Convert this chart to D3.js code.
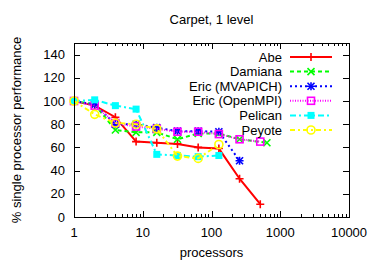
<!DOCTYPE html>
<html>
<head>
<meta charset="utf-8">
<script src="https://cdn.jsdelivr.net/npm/d3@7"></script>
<style>
  body { margin: 0; background: #fff; }
  text { font-family: "Liberation Sans", Arial, sans-serif; fill: #000; }
</style>
</head>
<body>
<svg id="chart" width="374" height="262"></svg>
<script>
// values
const procs = [1, 2, 4, 8, 16, 32, 64, 128, 256, 512];
const damianaProcs = [1, 2, 4, 8, 16, 32, 64, 128, 256, 640];
const abe = [100, 96, 86, 65, 64, 63, 60, 59, 33, 11];
const damiana = [100, 97, 75, 73, 73, 67, 72, 72, 67, 64];
const ericMvapich = [100, 97, 80, 80, 77, 74, 74, 73.5, 48.5];
const ericOpenmpi = [100, 96, 81, 78, 76, 73.5, 73.5, 71.5, 67, 65];
const pelican = [100, 101, 96, 93, 54, 53, 52, 53];
const peyote = [100, 88.5, 81, 80, 76, 52.5, 50.5, 62.5];
const xTicks = [1, 10, 100, 1000, 10000];
const yTicks = [0, 20, 40, 60, 80, 100, 120, 140];

const series = [
  { name: 'Abe', x: procs, y: abe, color: '#ff0000', dash: null, mark: 'plus' },
  { name: 'Damiana', x: damianaProcs, y: damiana, color: '#00ff00', dash: '4,3', mark: 'cross' },
  { name: 'Eric (MVAPICH)', x: procs, y: ericMvapich, color: '#0000ff', dash: '2,3', mark: 'star' },
  { name: 'Eric (OpenMPI)', x: procs, y: ericOpenmpi, color: '#ff00ff', dash: '1,1.5', mark: 'box' },
  { name: 'Pelican', x: procs, y: pelican, color: '#00ffff', dash: '6,3,2,3', mark: 'fbox' },
  { name: 'Peyote', x: procs, y: peyote, color: '#ffff00', dash: '5,3,2,3', mark: 'circle' }
];

const svg = d3.select('#chart');
const m = { left: 74, right: 25, top: 43, bottom: 45 };
const W = +svg.attr('width'), H = +svg.attr('height');
const w = W - m.left - m.right, h = H - m.top - m.bottom;

const x = d3.scaleLog().domain([1, 10000]).range([0, w]);
const y = d3.scaleLinear().domain([0, 150]).range([h, 0]);

const g = svg.append('g').attr('transform', 'translate(' + m.left + ',' + m.top + ')');

// minor + major ticks on log axis, drawn inward on both sides (gnuplot style)
let minor = [];
for (let d = 1; d < 10000; d *= 10)
  for (let k = 2; k < 10; k++) minor.push(d * k);

const tk = g.append('g').attr('stroke', '#000').attr('stroke-width', 1);
minor.forEach(v => {
  let px = Math.round(x(v)) + 0.5;
  tk.append('line').attr('x1', px).attr('x2', px).attr('y1', h).attr('y2', h - 3);
  tk.append('line').attr('x1', px).attr('x2', px).attr('y1', 0).attr('y2', 3);
});
xTicks.forEach(v => {
  let px = Math.round(x(v)) + 0.5;
  tk.append('line').attr('x1', px).attr('x2', px).attr('y1', h).attr('y2', h - 6);
  tk.append('line').attr('x1', px).attr('x2', px).attr('y1', 0).attr('y2', 6);
});
yTicks.forEach(v => {
  let py = Math.round(y(v)) + 0.5;
  tk.append('line').attr('x1', 0).attr('x2', 6).attr('y1', py).attr('y2', py);
  tk.append('line').attr('x1', w).attr('x2', w - 6).attr('y1', py).attr('y2', py);
});

g.append('g').selectAll('text').data(xTicks).enter().append('text')
  .attr('x', d => x(d)).attr('y', h + 20)
  .attr('text-anchor', 'middle').style('font-size', '13px')
  .text(d => d);

g.append('g').selectAll('text').data(yTicks).enter().append('text')
  .attr('x', -9).attr('y', d => y(d) + 4.5)
  .attr('text-anchor', 'end').style('font-size', '13px')
  .text(d => d);

// legend
const legX = 282, legY = 57, legStep = 14.6;
const leg = svg.append('g');

function marker(sel, type, color) {
  const s = 3.5;
  if (type === 'plus' || type === 'star') {
    sel.append('path').attr('d', `M${-s-0.5},0H${s+0.5}M0,${-s-0.5}V${s+0.5}`).attr('stroke', color).attr('stroke-width', 1.6);
  }
  if (type === 'cross' || type === 'star') {
    sel.append('path').attr('d', `M${-s},${-s}L${s},${s}M${-s},${s}L${s},${-s}`).attr('stroke', color).attr('stroke-width', 1.6);
  }
  if (type === 'box') {
    sel.append('rect').attr('x', -3.5).attr('y', -3.5).attr('width', 7).attr('height', 7)
      .attr('fill', 'none').attr('stroke', color).attr('stroke-width', 1.6);
  }
  if (type === 'fbox') {
    sel.append('rect').attr('x', -3.5).attr('y', -3.5).attr('width', 7).attr('height', 7).attr('fill', color);
  }
  if (type === 'circle') {
    sel.append('circle').attr('r', 4).attr('fill', 'none').attr('stroke', color).attr('stroke-width', 1.6);
  }
}

const line = d3.line().x(d => x(d[0])).y(d => y(d[1]));

series.forEach((s, i) => {
  let pts = s.y.map((v, j) => [s.x[j], v]);
  g.append('path').datum(pts)
    .attr('d', line)
    .attr('fill', 'none')
    .attr('stroke', s.color)
    .attr('stroke-width', 2)
    .attr('stroke-dasharray', s.dash);
  pts.forEach(p => {
    marker(g.append('g').attr('transform', 'translate(' + x(p[0]) + ',' + y(p[1]) + ')'), s.mark, s.color);
  });

  let ly = legY + i * legStep;
  leg.append('text').attr('x', legX).attr('y', ly + 4.5)
    .attr('text-anchor', 'end').style('font-size', '13px').text(s.name);
  leg.append('line').attr('x1', 290).attr('x2', 332).attr('y1', ly).attr('y2', ly)
    .attr('stroke', s.color).attr('stroke-width', 2).attr('stroke-dasharray', s.dash);
  marker(leg.append('g').attr('transform', 'translate(311,' + ly + ')'), s.mark, s.color);
});

// frame
g.append('rect').attr('x', 0.5).attr('y', 0.5).attr('width', w).attr('height', h)
  .attr('fill', 'none').attr('stroke', '#000').attr('stroke-width', 1);

svg.append('text').attr('x', m.left + w / 2).attr('y', 24)
  .attr('text-anchor', 'middle').style('font-size', '13px').text('Carpet, 1 level');

svg.append('text').attr('x', m.left + w / 2).attr('y', 257)
  .attr('text-anchor', 'middle').style('font-size', '13px').text('processors');

svg.append('text')
  .attr('transform', 'translate(21,' + (m.top + h / 2) + ') rotate(-90)')
  .attr('text-anchor', 'middle').style('font-size', '13px').text('% single processor performance');
</script>
</body>
</html>
